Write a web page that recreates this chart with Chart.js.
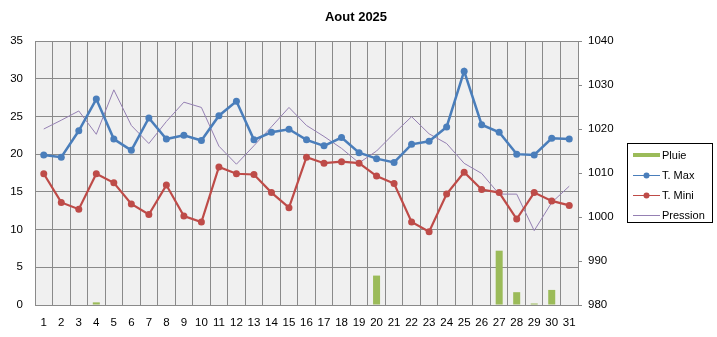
<!DOCTYPE html>
<html><head><meta charset="utf-8">
<script src="https://cdn.jsdelivr.net/npm/chart.js@4.4.1/dist/chart.umd.min.js"></script>
<style>html,body{margin:0;padding:0;background:#fff;}#wrap{width:717px;height:337px;}</style>
</head><body><div id="wrap"><canvas id="c" width="717" height="337"></canvas></div>
<script>
const chartTitle = "Aout 2025";
const days = ["1","2","3","4","5","6","7","8","9","10","11","12","13","14","15","16","17","18","19","20","21","22","23","24","25","26","27","28","29","30","31"];
const pluie = [0,0,0,0.35,0,0,0,0,0,0,0,0,0,0,0,0,0,0,0,3.9,0,0,0,0,0,0,7.2,1.7,0.2,2.0,0];
const tMax = [19.9,19.6,23.1,27.3,22.0,20.5,24.8,22.0,22.5,21.8,25.1,27.0,21.9,22.9,23.3,21.9,21.1,22.2,20.2,19.4,18.9,21.3,21.7,23.6,31.0,23.9,22.9,20.0,19.9,22.1,22.0];
const tMini = [17.4,13.6,12.7,17.4,16.2,13.4,12.0,15.9,11.8,11.0,18.3,17.4,17.3,14.9,12.9,19.6,18.8,19.0,18.8,17.1,16.1,11.0,9.7,14.7,17.6,15.3,14.9,11.4,14.9,13.8,13.2];
const pression = [1020,1022,1024.1,1018.8,1028.9,1020.8,1016.7,1021.7,1026.1,1024.9,1016.1,1012,1016.2,1020.5,1024.9,1020.8,1018.3,1015.6,1012.3,1015,1019,1022.8,1018.9,1016.7,1012.2,1009.9,1005.2,1005.2,996.9,1003.3,1007.0];
const seriesNames = ["Pluie","T. Max","T. Mini","Pression"];
const leftTicks = [0,5,10,15,20,25,30,35];
const rightTicks = [980,990,1000,1010,1020,1030,1040];

const FONT = "'Liberation Sans', Arial, sans-serif";
const GRID = '#8a8a8a';

const bgPlugin = {
  id:'bg',
  beforeDraw(chart){
    const {ctx, chartArea:a} = chart;
    ctx.save(); ctx.fillStyle='#f0f0f0';
    ctx.fillRect(a.left,a.top,a.right-a.left,a.bottom-a.top);
    ctx.restore();
  },
  afterDraw(chart){
    const ctx = chart.ctx;
    ctx.save();
    ctx.fillStyle='#000'; ctx.font="bold 13px "+FONT; ctx.textAlign='center'; ctx.textBaseline='middle';
    ctx.fillText(chartTitle, 356, 17);
    const bx=627.5, by=143.5, bw=85, bh=79;
    ctx.fillStyle='#fff'; ctx.fillRect(bx,by,bw,bh);
    ctx.strokeStyle='#000'; ctx.lineWidth=1; ctx.strokeRect(bx,by,bw,bh);
    ctx.font="11px "+FONT; ctx.textAlign='left'; ctx.textBaseline='middle';
    const ys=[155,175,195,215];
    [0,1,2,3].forEach((di,i)=>{
      const ds=chart.data.datasets[di];
      const y=ys[i];
      if(di===0){
        ctx.fillStyle=ds.backgroundColor; ctx.fillRect(633,y-2,27,4);
      } else {
        ctx.strokeStyle=ds.borderColor; ctx.lineWidth=1;
        ctx.beginPath(); ctx.moveTo(633,y+0.5); ctx.lineTo(660,y+0.5); ctx.stroke();
        if(ds.pointRadius>0){ ctx.fillStyle=ds.borderColor; ctx.beginPath(); ctx.arc(646.5,y+0.5,3,0,Math.PI*2); ctx.fill(); }
      }
      ctx.fillStyle='#000'; ctx.fillText(ds.label,662,y+1);
    });
    ctx.restore();
  }
};

new Chart(document.getElementById('c'), {
  type:'bar',
  data:{
    labels: days,
    datasets:[
      {type:'bar',label:seriesNames[0],data:pluie,backgroundColor:'#9bbb59',yAxisID:'y',order:3,barPercentage:0.4,categoryPercentage:1},
      {type:'line',label:seriesNames[1],data:tMax,borderColor:'#4a7ebb',backgroundColor:'#4a7ebb',borderWidth:2.5,pointRadius:3.5,pointBackgroundColor:'#4a7ebb',pointBorderWidth:0,tension:0,yAxisID:'y',order:0},
      {type:'line',label:seriesNames[2],data:tMini,borderColor:'#be4b48',backgroundColor:'#be4b48',borderWidth:2.2,pointRadius:3.5,pointBackgroundColor:'#be4b48',pointBorderWidth:0,tension:0,yAxisID:'y',order:1},
      {type:'line',label:seriesNames[3],data:pression,borderColor:'#9580b3',backgroundColor:'#9580b3',borderWidth:1,pointRadius:0,tension:0,yAxisID:'y2',order:2}
    ]
  },
  options:{
    responsive:false, animation:false, devicePixelRatio:1,
    layout:{padding:{top:41,right:90,left:0,bottom:0}},
    plugins:{legend:{display:false},title:{display:false},tooltip:{enabled:false}},
    scales:{
      x:{
        offset:true,
        grid:{offset:true,color:GRID,lineWidth:1,drawTicks:false},
        border:{color:GRID},
        ticks:{color:'#000',font:{family:FONT,size:11.5},padding:11,maxRotation:0,autoSkip:false},
        afterFit(s){s.height=32;}
      },
      y:{
        position:'left', min:0, max:35,
        afterBuildTicks(s){s.ticks=leftTicks.map(v=>({value:v}));},
        grid:{color:GRID,lineWidth:1,drawTicks:false},
        border:{color:GRID},
        ticks:{color:'#000',font:{family:FONT,size:11.5},padding:12,callback:v=>String(v)},
        afterFit(s){s.width=35;}
      },
      y2:{
        position:'right', min:980, max:1040,
        afterBuildTicks(s){s.ticks=rightTicks.map(v=>({value:v}));},
        grid:{drawOnChartArea:false,color:GRID,drawTicks:true,tickLength:4},
        border:{color:GRID},
        ticks:{color:'#000',font:{family:FONT,size:11.5},padding:6,callback:v=>String(v)},
        afterFit(s){s.width=49;}
      }
    }
  },
  plugins:[bgPlugin]
});
</script></body></html>
